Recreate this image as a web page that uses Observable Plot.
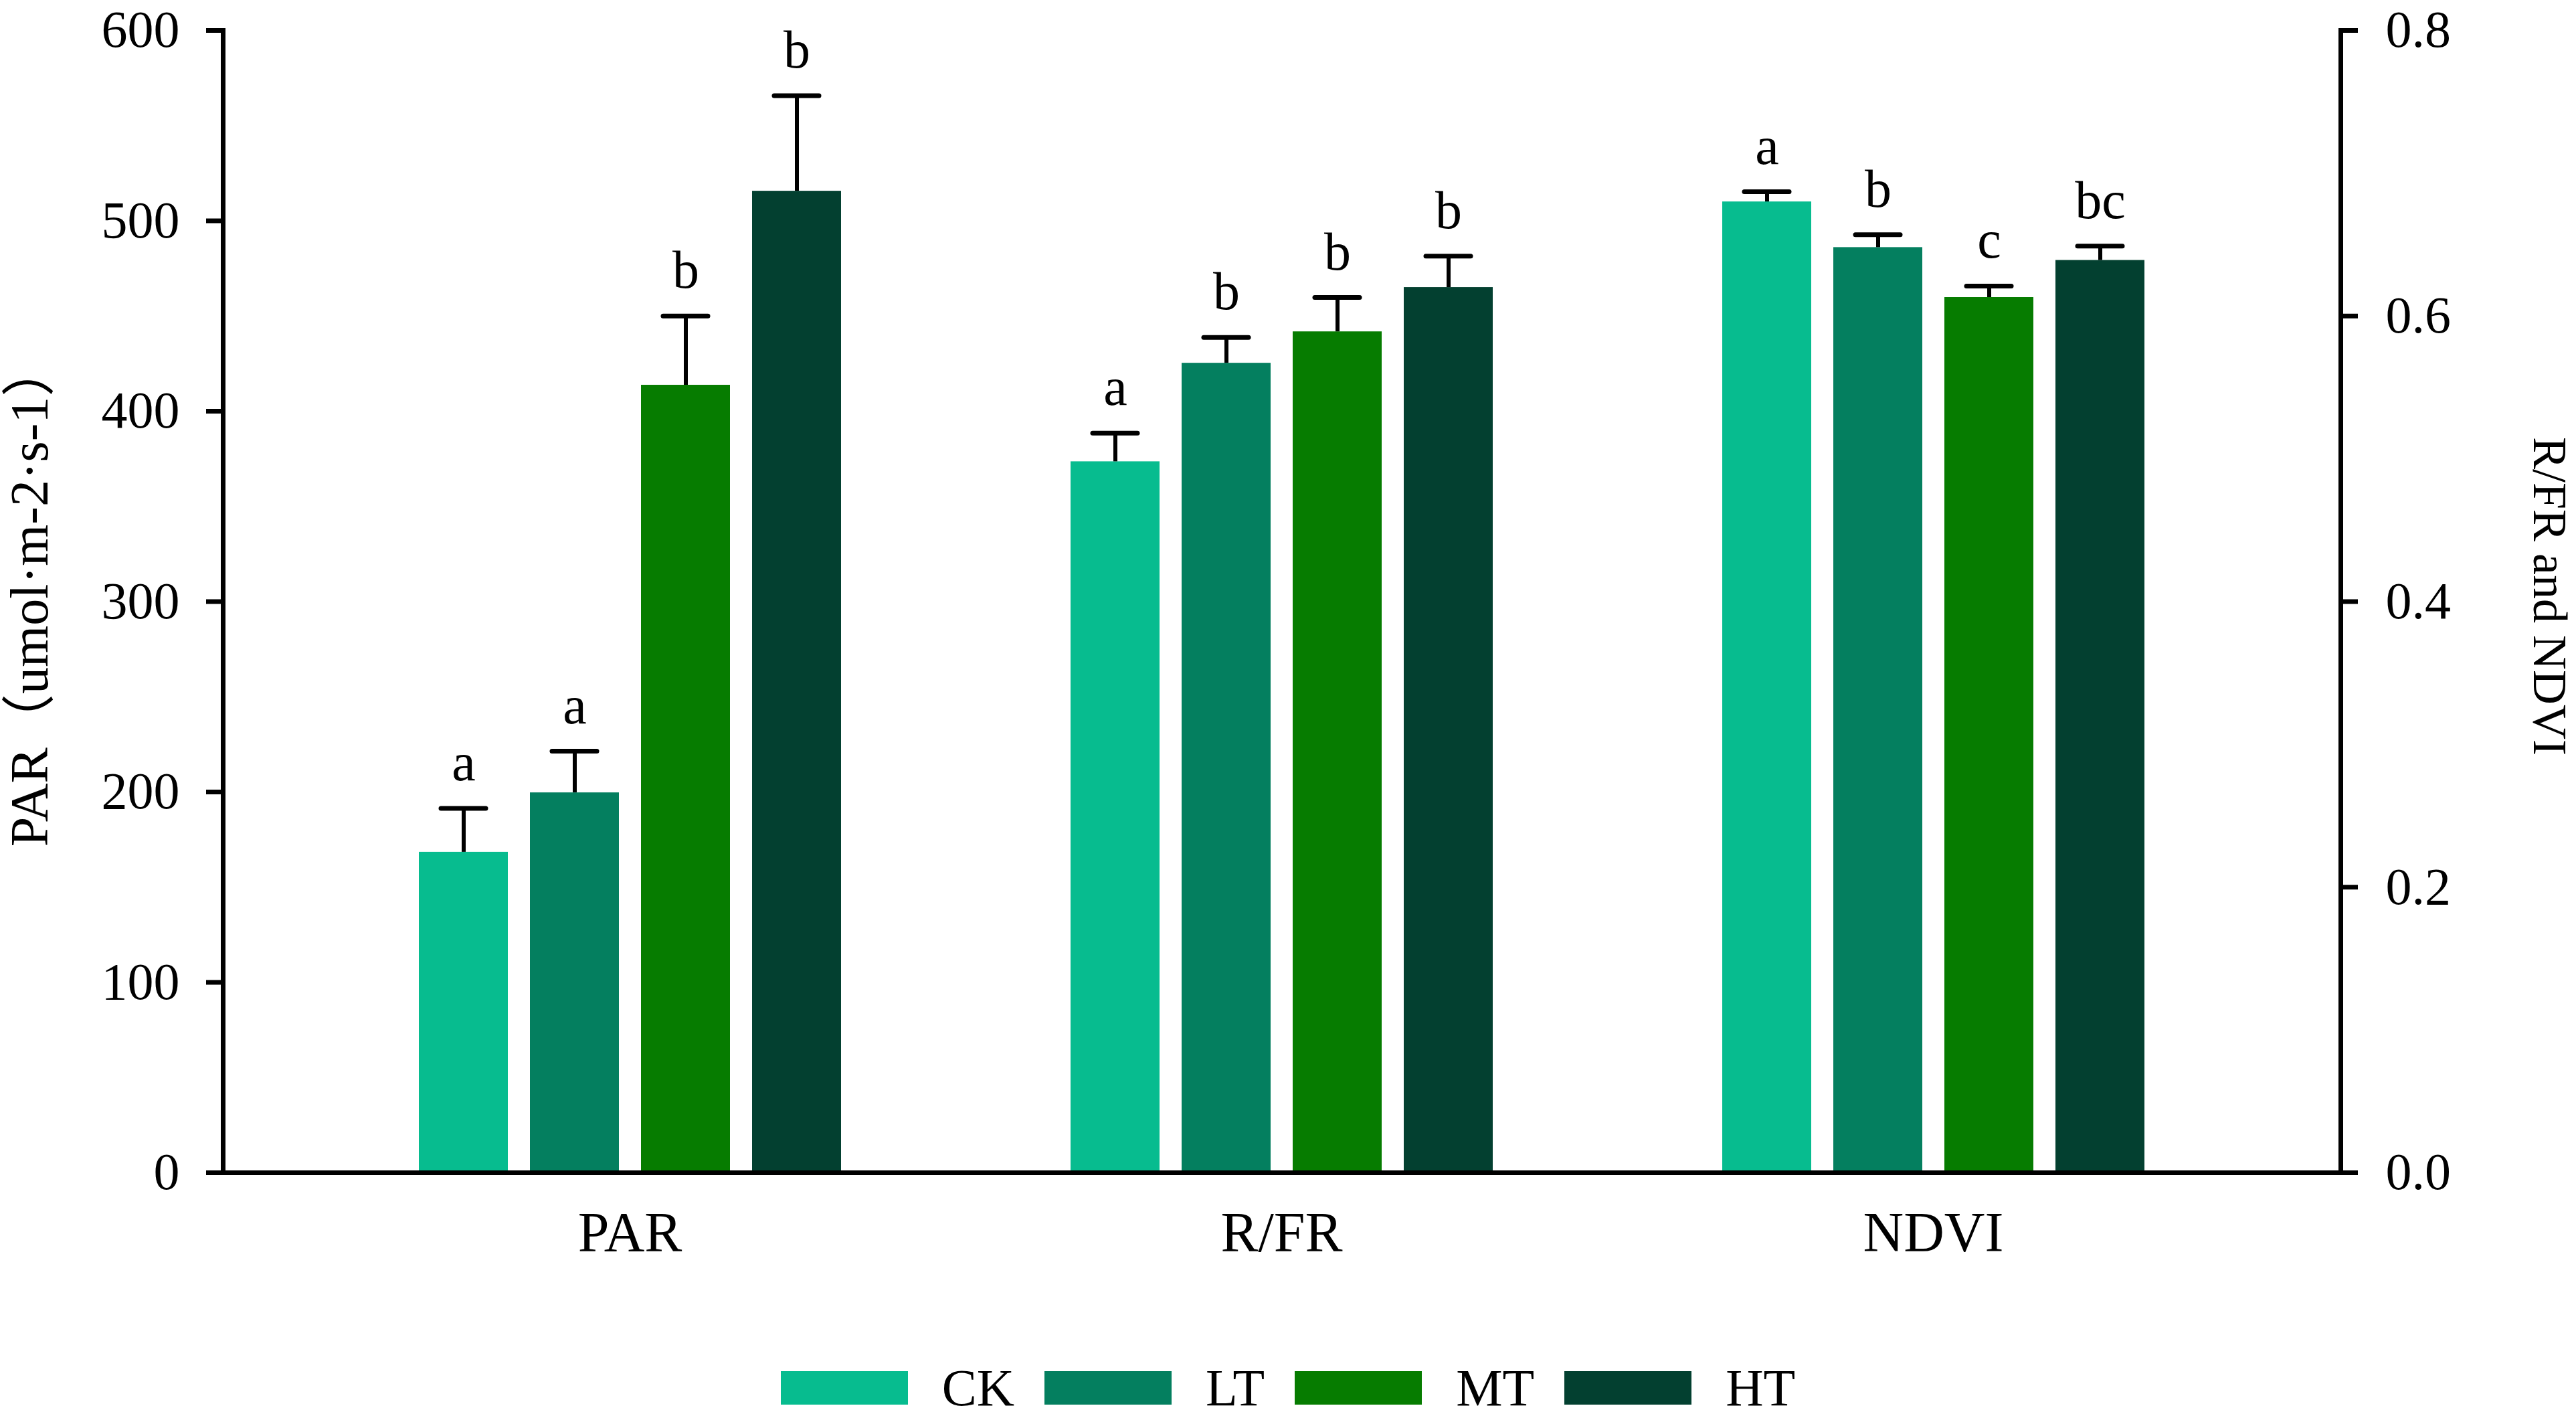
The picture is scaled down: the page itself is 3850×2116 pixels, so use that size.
<!DOCTYPE html>
<html><head><meta charset="utf-8">
<script src="https://cdn.jsdelivr.net/npm/d3@7"></script>
<script src="https://cdn.jsdelivr.net/npm/@observablehq/plot@0.6"></script>
<style>
html,body{margin:0;padding:0;background:#fff;}
body{width:3850px;height:2116px;overflow:hidden;font-family:"Liberation Serif","Noto Sans CJK SC",serif;color:#000;}
#chart{position:relative;width:3850px;height:2020px;}
#chart svg{display:block;position:absolute;left:0;top:0;}
#legend{display:flex;justify-content:center;align-items:center;height:68px;margin-top:20px;font-size:78px;}
#legend .sw{width:190px;height:50px;margin-right:51px;}
#legend .lb{margin-right:45px;line-height:1;}
#legend .lb:last-child{margin-right:0;}
</style></head><body><div id="chart"></div><div id="legend"></div>
<script>
const groups = ["PAR", "R/FR", "NDVI"];
const treatments = ["CK", "LT", "MT", "HT"];
const colors = ["#07BC8F", "#047F5F", "#067C00", "#034030"];
const parMean = [168.4, 199.6, 413.7, 515.6];
const parErr = [23.0, 21.8, 36.3, 50.1];
const rfrMean = [0.498, 0.567, 0.589, 0.620];
const rfrErr = [0.020, 0.018, 0.024, 0.022];
const ndviMean = [0.680, 0.648, 0.613, 0.639];
const ndviErr = [0.007, 0.009, 0.008, 0.010];
const parSig = ["a", "a", "b", "b"];
const rfrSig = ["a", "b", "b", "b"];
const ndviSig = ["a", "b", "c", "bc"];
const leftTicks = [0, 100, 200, 300, 400, 500, 600];
const rightTicks = [0.0, 0.2, 0.4, 0.6, 0.8];
const leftTitle = ["PAR（umol·m-2·s-1）"];
const rightTitle = ["R/FR and NDVI"];
const leftMax = 600, rightMax = 0.8;
const k = leftMax / rightMax;

const rows = [];
treatments.forEach((t, i) => {
  rows.push({group: "PAR", treatment: t, value: parMean[i], err: parErr[i], sig: parSig[i]});
});
treatments.forEach((t, i) => {
  rows.push({group: "R/FR", treatment: t, value: rfrMean[i] * k, err: rfrErr[i] * k, sig: rfrSig[i]});
});
treatments.forEach((t, i) => {
  rows.push({group: "NDVI", treatment: t, value: ndviMean[i] * k, err: ndviErr[i] * k, sig: ndviSig[i]});
});

const W = 3850, H = 2020;
const margins = {marginLeft: 333, marginRight: 352, marginTop: 45, marginBottom: H - 1752};
const font = '"Liberation Serif","Noto Sans CJK SC",serif';
const errTop = d => d.value + d.err;

const bars = Plot.plot({
  width: W, height: H, ...margins,
  style: {fontFamily: font, fontSize: "78px", color: "#000", background: "#fff", overflow: "visible"},
  fx: {domain: groups, paddingInner: 0.351, paddingOuter: 0.30, label: null},
  x: {domain: treatments, paddingInner: 0.2, paddingOuter: 0, axis: null},
  y: {domain: [0, leftMax], axis: null},
  color: {domain: treatments, range: colors},
  marks: [
    Plot.barY(rows, {fx: "group", x: "treatment", y: "value", fill: "treatment"}),
    Plot.ruleX(rows, {fx: "group", x: "treatment", y1: "value", y2: errTop, stroke: "#000", strokeWidth: 6}),
    Plot.tickY(rows, {fx: "group", x: "treatment", y: errTop, stroke: "#000", strokeWidth: 7, insetLeft: 33, insetRight: 33, strokeLinecap: "round"}),
    Plot.text(rows, {fx: "group", x: "treatment", y: errTop, text: "sig", dy: -42, lineAnchor: "bottom", fontSize: 80, fill: "#000"}),
    Plot.axisFx({anchor: "bottom", tickSize: 0, tickPadding: 58, label: null, fontSize: 84})
  ]
});

const axes = Plot.plot({
  width: W, height: H, ...margins,
  style: {fontFamily: font, fontSize: "78px", color: "#000", background: "transparent", overflow: "visible"},
  y: {domain: [0, leftMax], axis: null},
  marks: [
    Plot.ruleY([0], {stroke: "#000", strokeWidth: 7}),
    Plot.frame({anchor: "left", stroke: "#000", strokeWidth: 7}),
    Plot.frame({anchor: "right", stroke: "#000", strokeWidth: 7}),
    Plot.axisY({anchor: "left", ticks: leftTicks, tickFormat: d => String(d), tickSize: 25, tickPadding: 40, strokeWidth: 7, fontSize: 78, label: null}),
    Plot.axisY({anchor: "right", ticks: rightTicks.map(v => v * k), tickFormat: d => (d / k).toFixed(1), tickSize: 25, tickPadding: 42, strokeWidth: 7, fontSize: 78, label: null}),
    Plot.text(leftTitle, {text: d => d, frameAnchor: "left", textAnchor: "middle", lineAnchor: "middle", rotate: -90, dx: -288, dy: -10, fontSize: 80, fill: "#000"}),
    Plot.text(rightTitle, {text: d => d, frameAnchor: "right", textAnchor: "middle", lineAnchor: "middle", rotate: 90, dx: 312, dy: -8, fontSize: 72, fill: "#000"})
  ]
});

const holder = document.getElementById("chart");
holder.appendChild(bars);
holder.appendChild(axes);

const lg = d3.select("#legend");
treatments.forEach((t, i) => {
  lg.append("div").attr("class", "sw").style("background", colors[i]);
  lg.append("span").attr("class", "lb").text(t);
});
</script></body></html>
